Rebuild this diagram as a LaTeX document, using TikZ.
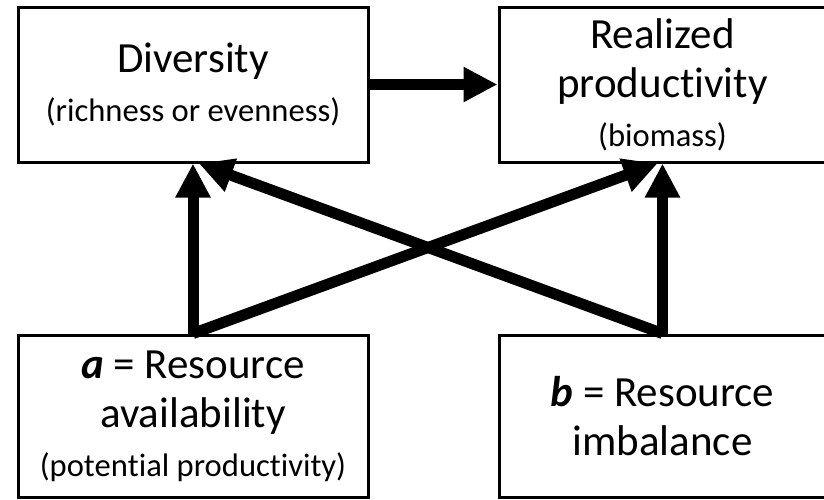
\documentclass[tikz,border=0pt]{standalone}
\usepackage{fontspec}
\setmainfont{Carlito}[Ligatures={NoCommon,NoContextual}]
\usetikzlibrary{arrows.meta}
\newcommand{\mainsize}{\fontsize{21.5}{24.5}\selectfont}
\newcommand{\subline}[1]{{\fontsize{16.3}{19.5}\selectfont #1}}
\begin{document}
\begin{tikzpicture}[x=0.5pt, y=-0.5pt,
    box/.style={draw, line width=1.5pt, align=center, inner sep=0pt, font=\mainsize},
    arr/.style={line width=5.5pt, -{Triangle[length=17pt, width=16.5pt]}}]
    \useasboundingbox (0, 0) rectangle (824, 499);
    \node[box, minimum width=175pt, minimum height=77.5pt] (div) at (193, 84.5)
        {Diversity\\\subline{(richness or evenness)}};
    \node[box, minimum width=163.5pt, minimum height=77.5pt] (prod) at (662.5, 84.5)
        {Realized\\produc\kern0pt tivity\\\subline{(biomass)}};
    \node[box, minimum width=175pt, minimum height=81pt] (res) at (193, 416)
        {\textbf{\textit{a}} = Resource\\availability\\\subline{(poten\kern0pt tial produc\kern0pt tivity)}};
    \node[box, minimum width=163.5pt, minimum height=81pt] (imb) at (662.5, 416)
        {\textbf{\textit{b}} = Resource\\imbalance};
    \draw[arr] (div.east) -- (prod.west);
    \draw[arr] (res.north) -- (div.south);
    \draw[arr] (imb.north) -- (prod.south);
    \draw[arr] (res.north) -- ([xshift=-2.5pt]prod.south);
    \draw[arr] (imb.north) -- ([xshift=3pt]div.south);
\end{tikzpicture}
\end{document}
